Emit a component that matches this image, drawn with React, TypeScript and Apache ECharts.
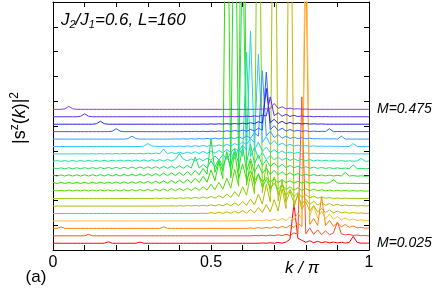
import React, { useEffect, useRef } from "react";
import * as echarts from "echarts";

// chain length and magnetisations (one curve per M)
const L = 160;
const M_VALUES = [0.025, 0.05, 0.075, 0.1, 0.125, 0.15, 0.175, 0.2, 0.225, 0.25, 0.275, 0.3, 0.325, 0.35, 0.375, 0.4, 0.425, 0.45, 0.475];
const COLORS = ["#ff0000", "#ff4a2a", "#ff8000", "#ffbe3c", "#c4b400", "#a8c000", "#88d000", "#5ad800", "#2ee000", "#1ee02a", "#1ee060", "#1ee0a0", "#1ed8d8", "#30c4ff", "#3a96ff", "#3060ff", "#2222f0", "#5a2ee8", "#8c3ce8"];
const X_TICK_LABELS = ["0", "0.5", "1"];
const CURVE_OFFSET_BASE = 6.8;
const CURVE_OFFSET_STEP = 7.5;

// |s^z(k)|^2 at k/pi = 2n/L, n = 0..80 (arbitrary units)
const S_M0025 = [0,0,0,0,0,0,0,0,0,0, 0,0,0,0,1.5,0,0,0,0,0, 0,0,1.2,0,0,0,0,0,0,0, 0,0,0,0,0,0,0,0,0,0, 0,0,0,0,0,0,0,0,0,0, 0,0,0,0.3,0,0.5,0,0.8,0.1,1.2, 4,40,5,3,1,2.5,0.6,2,0.5,1.5, 0.4,1.2,0.3,1,0.2,0.8,7,0.8,0,0.2, 0];
const S_M0050 = [0,0,0,0,0,0,0,0,0,1.5, 0,0,0,0,0,0,0,0,0,0, 0,0,0,0,0,0,0,0,0,0, 0,0,0,0,0,0,0,0,0,0, 0,0,0,0,0,0,0,0,0,0, 0,0.3,0,0.5,0,0.7,0.1,1,0.2,1.5, 0.3,3,1.5,140,2,8,1.5,6,1.2,5, 1,3,14,2,1,1.5,0.3,0.8,0,0.3, 0];
const S_M0075 = [0,0,1.5,0,0,0,0,0,0,0, 0,0,0,0,0,0,0,0,0,0, 0,0,0,0,0,0,0,0,1.5,0, 0,0,0,0,0,0,0,0,0,0, 0,0,0,0,0,0,0,0,0,0, 0.5,0,0.8,0,1,0.2,1.5,0.3,2,0.5, 3,1,5,2,280,4,10,3,32,3, 8,2,6,1.5,4,1,2.5,0.5,1,0.2, 0.3];
const S_M0100 = [0,0,0,0,0,0,0,0,0,0, 0,0,0,0,0,0,0,0,0,0, 0,0,0,0,0,0,0,0,0,0, 0,0,0,0,0,0,0,0,0,0, 0,0,0,0,0,0,0.3,0,0.4,0, 0.6,0,0.8,0.1,1.2,0.2,1.8,0.3,2.5,0.5, 4,1,8,2,320,5,15,3,10,2, 7,1.5,4.5,1,3,0.7,2,0.4,1.2,0.2, 0.5];
const S_M0125 = [0,0,0,0,0,0,0,0,0,0, 0,0,0,0,0,0,0,0,0,0, 0,0,0,0,0,0,0,0,0,0, 0,0,0,0,0,0,0,0,0.3,0, 0.9,0.1,1.2,0.1,1.6,0.2,2.2,0.3,3,0.4, 4,0.6,6,1,9,1.5,14,2.5,25,5, 430,6,20,4,12,2.5,8,1.5,5,1, 3.5,0.7,2.5,0.5,1.5,0.3,1,0.2,0.6,0.1, 0.3];
const S_M0150 = [0,0,0,0,0,0,0,0,0,0, 0,0,0,0,0,0,0,0,0,0, 0,0,0,0,0,0,0,0,0.2,0, 0.3,0,0.4,0,0.5,0.1,0.6,0.1,0.8,0.1, 1.2,0.2,1.5,0.2,2.4,0.3,3.2,0.5,4.5,0.8, 7,1.2,12,2,22,4,480,5,26,4, 15,3,10,2,7,1.5,5,1,3.5,0.7, 2.5,0.5,1.8,0.3,1.2,0.2,0.8,0.1,0.5,0.1, 0.3];
const S_M0175 = [0,0,0,0,0,0,0,0,0,0, 0,0,0,0,0,0,0,0,0.2,0, 0.3,0,0.3,0,0.4,0,0.5,0.1,0.6,0.1, 0.7,0.1,0.8,0.2,1,0.2,1.3,0.3,1.7,0.4, 2.2,0.5,3,0.8,4.5,1.2,7,2,12,3.5, 24,5,450,6,35,6,22,4,14,3, 9,2,6,1.2,4,0.8,2.5,0.5,1.5,0.3, 1,0.2,0.7,0.1,0.5,0.1,0.3,0,0.2,0, 0.2];
const S_M0200 = [1,0.2,1,0.2,1.1,0.2,1.1,0.2,1.2,0.2, 1.2,0.2,1.3,0.2,1.3,0.2,1.4,0.2,1.5,0.3, 1.6,0.3,1.7,0.3,1.8,0.3,2,0.4,2.2,0.4, 2.4,0.5,2.7,0.6,3,0.7,3.5,0.8,4.5,1, 7,1.5,9,2,13,3,22,5,560,6, 30,5,18,4,12,3,8,2,6,1.5, 4.5,1,3.5,0.8,2.5,0.5,2,0.4,1.5,0.3, 1.2,0.2,1,0.2,0.8,0.1,0.6,0.1,0.5,0, 0.3];
const S_M0225 = [1.4,0.2,1.4,0.2,1.4,0.2,1.5,0.2,1.5,0.2, 1.6,0.2,1.6,0.3,1.7,0.3,1.8,0.3,1.9,0.3, 2,0.4,2.2,0.4,2.4,0.4,2.6,0.5,2.8,0.5, 3.2,0.6,3.6,0.7,4.3,0.9,5.5,1.1,7.5,1.5, 14,3,22,5,400,6,32,5,20,4, 13,3,9,2,6.5,1.5,5,1.2,4,1, 3,0.8,2.5,0.6,2,0.5,1.5,0.5,1.2,0.5, 1,4,0.8,0.3,0.6,0.2,0.5,0.1,0.4,0.1, 0.3];
const S_M0250 = [1.4,0.2,1.4,0.2,1.5,0.2,1.5,0.2,1.5,0.2, 1.6,0.3,1.7,0.3,1.8,0.3,1.9,0.3,2,0.4, 2.2,0.4,2.4,0.4,2.6,0.5,2.8,0.5,3.2,0.6, 3.5,0.7,3.9,0.8,4.6,1,5.8,1.4,8,2.2, 38,4,16,5,25,6,350,6,30,5, 18,4,12,3,8,2,6,1.5,4.5,1.2, 3.5,1,2.8,0.8,2.2,0.6,1.8,0.5,1.4,0.4, 1.2,0.3,1,0.3,4,0.2,0.8,0.1,0.5,0.1, 0.3];
const S_M0275 = [1,0.1,1,0.1,1.1,0.1,1.1,0.2,1.2,0.2, 1.3,0.2,1.3,0.2,1.4,0.3,1.5,0.3,1.6,0.3, 1.8,0.3,1.9,0.4,2,0.4,2.2,0.4,2.5,0.5, 2.7,0.6,3,0.6,3.5,0.7,12,0.9,4.3,1.1, 8,2,10,2.5,13,3,20,5,230,6, 25,5,14,3.5,9,2.5,6,1.8,4.5,1.3, 3.5,1,2.8,0.8,2.2,0.6,1.8,0.5,1.4,0.4, 1.2,0.3,1,0.3,0.8,0.2,4,0.2,0.5,0.1, 0.3];
const S_M0300 = [0.1,0.8,0.1,0.8,0.1,0.9,0.1,0.9,0.1,1, 0.2,1,0.2,1.1,0.2,1.2,0.2,1.3,0.3,1.3, 0.3,1.4,0.3,1.5,0.3,1.7,0.4,1.8,0.4,2, 0.4,2.1,8,2.3,0.6,2.5,0.6,2.8,0.7,3.2, 1.2,5.5,1.5,7,2,9,3,14,5,110, 5,14,3,9,2,6,1.5,4.5,1.2,3.5, 1,2.8,0.8,2.2,0.6,1.8,0.5,1.4,0.4,1.2, 0.3,1,0.3,0.8,0.2,0.6,0.2,0.5,3,0.2, 0.3];
const S_M0325 = [0.2,0,0.2,0,0.2,0,0.3,0,0.3,0, 0.3,0,0.4,0,0.4,0,0.5,0,0.5,0.1, 0.6,0.1,0.7,0.1,0.8,0.1,1,0.1,5,0.3, 1.5,0.3,1.8,0.4,2,0.5,2.3,0.5,2.6,0.6, 3,0.8,3.6,1,4.5,1.3,6,2,9,4, 124,4,12,2.5,7,1.5,4.5,1,3,0.7, 2,0.5,1.5,0.4,1,0.3,0.8,0.2,0.6,0.2, 0.5,0.1,0.4,0.1,0.3,0.1,0.3,0,0.2,0, 0.2];
const S_M0350 = [0,0,0,0,0,0,0,0,0,0, 0,0,0,0,0,0,0,0,0,0, 0,0,0,0.5,3,0.5,0.3,0,0.3,0, 0.4,0,0.5,0,0.6,0.1,0.8,0.1,1,0.2, 1.3,0.3,1.7,0.4,2.2,0.6,3,1,4.5,2, 8,4,93,4,10,2,6,1.2,3.5,0.8, 2.2,0.5,1.5,0.4,1,0.3,0.7,0.2,0.5,0.1, 0.4,0.1,0.3,0,0.2,0,3,0,0.1,0, 0];
const S_M0375 = [0,0,0,0,0,0,0,0,0,0, 0,0,0,0,0,0,0,0,0,0.5, 3,0.5,0,0,0,0,0,0,0,0, 0,0.2,0,0.3,0,0.4,0,0.5,0.1,0.7, 0.1,0.9,0.2,1.2,0.3,1.6,0.4,2.2,0.6,3.2, 1,6,3,69,3,8,1.5,4.5,1,3, 0.6,2,0.4,1.3,0.3,0.9,0.2,0.6,0.1,0.4, 0.1,0.3,0,3,0,0.1,0,0,0,0, 0];
const S_M0400 = [0,0,0,0,0,0,0,0,0,0, 0,0,0,0,0,0.5,3,0.5,0,0, 0,0,0,0,0,0,0,0,0,0, 0,0,0,0,0.2,0,0.3,0,0.4,0, 0.5,0.1,0.7,0.1,0.9,0.2,1.2,0.3,1.6,0.4, 2.2,0.7,3.5,1.5,60,2,6,1,3.5,0.6, 2.2,0.4,1.4,0.3,0.9,0.2,0.6,0.1,0.4,0.1, 3,0,0.2,0,0.1,0,0,0,0,0, 0];
const S_M0425 = [0,0,0,0,0,0,0,0,0,0, 0,0.5,3,0.5,0,0,0,0,0,0, 0,0,0,0,0,0,0,0,0,0, 0,0,0,0,0,0,0,0,0.2,0, 0.3,0,0.4,0.1,0.5,0.1,0.7,0.2,1,0.3, 1.5,0.5,2.5,1.2,36,1.5,5,0.8,3,0.5, 1.8,0.3,1.1,0.2,0.7,0.1,0.4,0.1,0.3,0, 0,0,0,0,0,0,0,0,0,0, 0];
const S_M0450 = [0,0,0,0,0,0,0,0.5,3,0.5, 0,0,0,0,0,0,0,0,0,0, 0,0,0,0,0,0,0,0,0,0, 0,0,0,0,0,0,0,0,0,0, 0,0.1,0,0.2,0,0.3,0,0.4,0.1,0.6, 0.2,0.9,0.4,1.5,0.8,20,1,4,0.5,2.5, 0.3,1.5,0.2,0.9,0.1,0.5,0,0.3,0,0.2, 0,0,0,0,0,0,0,0,0,0, 0];
const S_M0475 = [0,0,0,0.5,3,0.5,0,0,0,0, 0,0,0,0,0,0,0,0,0,0, 0,0,0,0,0,0,0,0,0,0, 0,0,0,0,0,0,0,0,0,0, 0,0,0,0,0,0,0,0,0,0, 0,0,0.1,0.2,0.4,0.8,6,1,2.5,0.5, 1.2,0.3,0.6,0.1,0.3,0,0,0,0,0, 0,0,0,0,0,0,0,0,0,0, 0];

const CURVES = [S_M0025, S_M0050, S_M0075, S_M0100, S_M0125, S_M0150, S_M0175, S_M0200, S_M0225, S_M0250, S_M0275, S_M0300, S_M0325, S_M0350, S_M0375, S_M0400, S_M0425, S_M0450, S_M0475];

const FONT = "'Liberation Sans', Arial, Helvetica, sans-serif";

export default function App() {
  const ref = useRef<HTMLDivElement>(null);
  useEffect(() => {
    if (!ref.current) return;
    const chart = echarts.init(ref.current, null, { renderer: "svg" });
    const series = CURVES.map((vals, i) => ({
      type: "line",
      name: "M=" + M_VALUES[i],
      data: vals.map((v, n) => [(2 * n) / L, v + CURVE_OFFSET_BASE + CURVE_OFFSET_STEP * i]),
      showSymbol: false,
      symbol: "none",
      clip: true,
      lineStyle: { color: COLORS[i], width: 1 },
      z: 2 + i,
    }));
    const tickLabel = (v: number) => {
      if (Math.abs(v) < 1e-6) return X_TICK_LABELS[0];
      if (Math.abs(v - 0.5) < 1e-6) return X_TICK_LABELS[1];
      if (Math.abs(v - 1) < 1e-6) return X_TICK_LABELS[2];
      return "";
    };
    const axisCommon = {
      axisLine: { show: true, onZero: false, lineStyle: { color: "#000", width: 1 } },
      axisTick: { show: true, inside: true, length: 5, lineStyle: { color: "#000", width: 1 } },
      splitLine: { show: false },
    };
    chart.setOption({
      animation: false,
      grid: { left: 53, top: 2, right: 67, bottom: 40, containLabel: false },
      xAxis: [
        {
          type: "value", min: 0, max: 1, interval: 0.1, position: "bottom", ...axisCommon,
          axisLabel: { show: true, formatter: tickLabel, fontSize: 16, color: "#000", fontFamily: FONT, margin: 3, showMinLabel: true, showMaxLabel: true },
        },
        {
          type: "value", min: 0, max: 1, interval: 0.1, position: "top", ...axisCommon,
          axisLabel: { show: false },
        },
      ],
      yAxis: [
        { type: "value", min: 0, max: 250, interval: 25, position: "left", ...axisCommon, axisLabel: { show: false } },
        { type: "value", min: 0, max: 250, interval: 25, position: "right", ...axisCommon, axisLabel: { show: false } },
      ],
      series,
      graphic: [
        {
          type: "text", left: 61, top: 11,
          style: {
            text: "{i|J}{s|2}{i|/J}{s|1}{i|=0.6, L=160}",
            rich: {
              i: { fontSize: 17, fontStyle: "italic", fontFamily: FONT, fill: "#000", lineHeight: 20 },
              s: { fontSize: 11, fontStyle: "italic", fontFamily: FONT, fill: "#000", padding: [9, 0, 0, 0] },
            },
          },
        },
        {
          type: "text", x: 19, y: 118, rotation: Math.PI / 2,
          style: {
            text: "{n||s}{p|z}{n|(}{k|k}{n|)|}{p|2}",
            align: "center", verticalAlign: "middle",
            rich: {
              n: { fontSize: 18, fontFamily: FONT, fill: "#000", lineHeight: 22 },
              k: { fontSize: 18, fontStyle: "italic", fontFamily: FONT, fill: "#000", lineHeight: 22 },
              p: { fontSize: 12, fontFamily: FONT, fill: "#000", padding: [0, 0, 10, 0] },
            },
          },
        },
        {
          type: "text", x: 302, y: 267,
          style: { text: "k / π", fontSize: 17, fontStyle: "italic", fontFamily: FONT, fill: "#000", align: "center", verticalAlign: "middle" },
        },
        {
          type: "text", x: 36, y: 276,
          style: { text: "(a)", fontSize: 17, fontFamily: FONT, fill: "#000", align: "center", verticalAlign: "middle" },
        },
        {
          type: "text", x: 377, y: 108,
          style: { text: "M=0.475", fontSize: 14, fontStyle: "italic", fontFamily: FONT, fill: "#000", align: "left", verticalAlign: "middle" },
        },
        {
          type: "text", x: 377, y: 242,
          style: { text: "M=0.025", fontSize: 14, fontStyle: "italic", fontFamily: FONT, fill: "#000", align: "left", verticalAlign: "middle" },
        },
      ],
    });
    return () => chart.dispose();
  }, []);
  return <div ref={ref} style={{ position: "fixed", left: 0, top: 0, width: 436, height: 290 }} />;
}
